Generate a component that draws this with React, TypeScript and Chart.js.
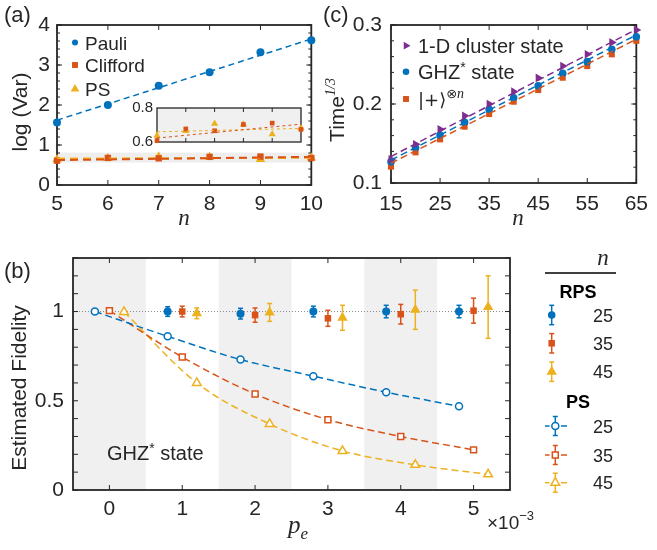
import React, { useEffect, useRef } from 'react';
import { Chart, registerables } from 'chart.js';
Chart.register(...registerables);

const BLUE = '#0072BD';
const ORANGE = '#D95319';
const YELLOW = '#EDB120';
const PURPLE = '#7E2F8E';
const AX = '#262626';
const SANS = '"Liberation Sans", Arial, Helvetica, sans-serif';
const SERIF = '"Liberation Serif", "DejaVu Serif", "Times New Roman", serif';
const SYM = '"DejaVu Sans", "Liberation Sans", sans-serif';

// ---------- panel (a) ----------
const nA = [5, 6, 7, 8, 9, 10];
const pauliVar = [1.56, 2.0, 2.48, 2.82, 3.32, 3.62];
const cliffordVar = [0.608, 0.677, 0.666, 0.703, 0.711, 0.674];
const psVar = [0.638, 0.666, 0.708, 0.703, 0.646, 0.681];
const fitNA = [5, 10];
const pauliFit = [1.62, 3.65];
const cliffordFit = [0.623, 0.705];
const psFit = [0.66, 0.68];
const zoomBandA = [0.56, 0.81];
const xTicksA = [5, 6, 7, 8, 9, 10];
const yTicksA = [0, 1, 2, 3, 4];
const insetXTicks = [6, 7, 8, 9];
const insetYTicks = [0.6, 0.8];
const legendA = ['Pauli', 'Clifford', 'PS'];

// ---------- panel (c) ----------
const nC = [15, 20, 25, 30, 35, 40, 45, 50, 55, 60, 65];
const clusterT = [0.13, 0.149, 0.168, 0.185, 0.2, 0.2156, 0.233, 0.248, 0.263, 0.278, 0.2937];
const ghzT = [0.127, 0.1447, 0.1608, 0.1768, 0.1933, 0.208, 0.223, 0.2388, 0.2536, 0.2692, 0.2852];
const plusT = [0.1207, 0.1388, 0.1553, 0.1713, 0.1873, 0.2029, 0.2177, 0.2333, 0.248, 0.2629, 0.28];
const fitNC = [15, 65];
const clusterFit = [0.1335, 0.2945];
const ghzFit = [0.129, 0.2873];
const plusFit = [0.125, 0.2819];
const xTicksC = [15, 25, 35, 45, 55, 65];
const yTicksC = [0.1, 0.2, 0.3];

// ---------- panel (b) ----------
const xTicksB = [0, 1, 2, 3, 4, 5];
const yTicksB = [0, 0.5, 1];
const shadeB = [[-0.5, 0.5], [1.5, 2.5], [3.5, 4.5]];
const refLineB = 1;
const rps25X = [0.8, 1.8, 2.8, 3.8, 4.8];
const rps25F = [1.0, 0.988, 1.0, 1.0, 1.0];
const rps25E = [0.027, 0.03, 0.03, 0.035, 0.035];
const rps35X = [1, 2, 3, 4, 5];
const rps35F = [1.0, 0.98, 0.962, 0.985, 1.005];
const rps35E = [0.03, 0.04, 0.045, 0.055, 0.07];
const rps45X = [1.2, 2.2, 3.2, 4.2, 5.2];
const rps45F = [0.99, 0.995, 0.965, 1.01, 1.025];
const rps45E = [0.03, 0.05, 0.07, 0.11, 0.175];
const ps25X = [-0.2, 0.8, 1.8, 2.8, 3.8, 4.8];
const ps25F = [1.0, 0.861, 0.731, 0.638, 0.548, 0.469];
const ps35X = [0, 1, 2, 3, 4, 5];
const ps35F = [1.005, 0.745, 0.538, 0.394, 0.3, 0.225];
const ps45X = [0.2, 1.2, 2.2, 3.2, 4.2, 5.2];
const ps45F = [0.998, 0.6, 0.37, 0.219, 0.141, 0.088];
const legendNs = ['25', '35', '45'];

// ---------- helpers ----------
const range = (a: number, b: number, s: number) => {
  const out: number[] = [];
  for (let v = a; v <= b + 1e-9; v += s) out.push(Math.round(v * 1e6) / 1e6);
  return out;
};
const pts = (xs: number[], ys: number[]) => xs.map((x, i) => ({ x, y: ys[i] }));
const lineDs = (xs: number[], ys: number[], color: string, dash: number[], lw: number) => ({
  data: pts(xs, ys), showLine: true, borderColor: color, borderWidth: lw, borderDash: dash,
  pointRadius: 0, fill: false,
});
const markDs = (xs: number[], ys: number[], color: string, style: string, r: number, rot = 0) => ({
  data: pts(xs, ys), showLine: false, pointStyle: style, pointRadius: r, pointRotation: rot,
  pointBackgroundColor: color, pointBorderColor: color, pointBorderWidth: 0, clip: false,
});

type Run = { t: string; font: string; dy?: number };
function drawRuns(ctx: CanvasRenderingContext2D, runs: Run[], x: number, y: number, align: 'left' | 'center') {
  let w = 0;
  runs.forEach(r => { ctx.font = r.font; w += ctx.measureText(r.t).width; });
  let cx = align === 'center' ? x - w / 2 : x;
  ctx.textAlign = 'left';
  ctx.textBaseline = 'alphabetic';
  runs.forEach(r => { ctx.font = r.font; ctx.fillText(r.t, cx, y + (r.dy || 0)); cx += ctx.measureText(r.t).width; });
}
function drawMarker(ctx: CanvasRenderingContext2D, style: string, x: number, y: number, r: number, color: string, filled: boolean) {
  ctx.save();
  ctx.beginPath();
  if (style === 'circle') ctx.arc(x, y, r, 0, Math.PI * 2);
  else if (style === 'rect') { const s = r * Math.SQRT1_2; ctx.rect(x - s, y - s, 2 * s, 2 * s); }
  else if (style === 'triangle') {
    ctx.moveTo(x, y - r); ctx.lineTo(x + r * 0.866, y + r * 0.5); ctx.lineTo(x - r * 0.866, y + r * 0.5); ctx.closePath();
  } else if (style === 'triRight') {
    ctx.moveTo(x + r, y); ctx.lineTo(x - r * 0.5, y + r * 0.866); ctx.lineTo(x - r * 0.5, y - r * 0.866); ctx.closePath();
  }
  if (filled) { ctx.fillStyle = color; ctx.fill(); }
  else { ctx.fillStyle = '#fff'; ctx.fill(); ctx.strokeStyle = color; ctx.lineWidth = 1.5; ctx.stroke(); }
  ctx.restore();
}
function line(ctx: CanvasRenderingContext2D, x1: number, y1: number, x2: number, y2: number) {
  ctx.beginPath(); ctx.moveTo(x1, y1); ctx.lineTo(x2, y2); ctx.stroke();
}
function errBar(ctx: CanvasRenderingContext2D, x: number, y1: number, y2: number, color: string) {
  ctx.save(); ctx.strokeStyle = color; ctx.lineWidth = 1.5;
  line(ctx, x, y1, x, y2); line(ctx, x - 2.5, y1, x + 2.5, y1); line(ctx, x - 2.5, y2, x + 2.5, y2);
  ctx.restore();
}

type Frame = { xMajor: number[]; yMajor: number[]; xMinor?: number[]; yMinor?: number[]; maj: number; min: number; lw: number };
function drawFrame(chart: any, f: Frame) {
  const { ctx, chartArea: ca, scales } = chart;
  const xs = scales.x, ys = scales.y;
  ctx.save();
  ctx.strokeStyle = AX;
  ctx.lineWidth = 1;
  const vt = (vals: number[], len: number) => vals.forEach(v => {
    const p = xs.getPixelForValue(v);
    line(ctx, p, ca.bottom, p, ca.bottom - len); line(ctx, p, ca.top, p, ca.top + len);
  });
  const ht = (vals: number[], len: number) => vals.forEach(v => {
    const p = ys.getPixelForValue(v);
    line(ctx, ca.left, p, ca.left + len, p); line(ctx, ca.right, p, ca.right - len, p);
  });
  vt(f.xMajor, f.maj); ht(f.yMajor, f.maj);
  if (f.xMinor) vt(f.xMinor, f.min);
  if (f.yMinor) ht(f.yMinor, f.min);
  ctx.lineWidth = f.lw;
  ctx.strokeRect(ca.left, ca.top, ca.right - ca.left, ca.bottom - ca.top);
  ctx.restore();
}

function axisScale(min: number, max: number, tickVals: number[], size: number, fontSize: number, pad: number, isX: boolean, show = true) {
  return {
    type: 'linear', min, max,
    grid: { display: false, drawTicks: false },
    border: { display: false },
    ticks: {
      display: show, autoSkip: false, maxRotation: 0, padding: pad, color: AX,
      font: { family: SANS, size: fontSize },
      callback: (v: number) => String(v),
    },
    afterBuildTicks: (s: any) => { s.ticks = tickVals.map(v => ({ value: v })); },
    afterFit: (s: any) => { if (isX) s.height = size; else s.width = size; },
  };
}

const baseOpts = (padding: any) => ({
  responsive: false, animation: false, events: [],
  layout: { padding },
  plugins: { legend: { display: false }, tooltip: { enabled: false } },
});

function vTitle(ctx: CanvasRenderingContext2D, runs: Run[], x: number, y: number) {
  ctx.save(); ctx.translate(x, y); ctx.rotate(-Math.PI / 2);
  ctx.fillStyle = AX;
  drawRuns(ctx, runs, 0, 0, 'center');
  ctx.restore();
}

// ---------- configs ----------
function cfgA(): any {
  return {
    type: 'scatter',
    data: {
      datasets: [
        lineDs(fitNA, pauliFit, BLUE, [6, 4], 1.5),
        lineDs(fitNA, cliffordFit, ORANGE, [8, 5], 2),
        lineDs(fitNA, psFit, YELLOW, [8, 5], 2),
        markDs(nA, pauliVar, BLUE, 'circle', 4),
        markDs(nA, cliffordVar, ORANGE, 'rect', 4.5),
        markDs(nA, psVar, YELLOW, 'triangle', 5.5),
      ],
    },
    options: {
      ...baseOpts({ top: 25, right: 18, left: 0, bottom: 0 }),
      scales: {
        x: axisScale(5, 10, xTicksA, 50, 21, 7, true),
        y: axisScale(0, 4, yTicksA, 57, 21, 7, false),
      },
    },
    plugins: [{
      id: 'underA',
      beforeDatasetsDraw(chart: any) {
        const { ctx, chartArea: ca, scales: { y } } = chart;
        ctx.save(); ctx.fillStyle = '#eeeeee';
        const y1 = y.getPixelForValue(zoomBandA[1]), y0 = y.getPixelForValue(zoomBandA[0]);
        ctx.fillRect(ca.left, y1, ca.right - ca.left, y0 - y1);
        ctx.restore();
        drawFrame(chart, { xMajor: xTicksA, yMajor: yTicksA, yMinor: range(0, 4, 0.2), maj: 5, min: 3, lw: 1.8 });
      },
      afterDraw(chart: any) {
        const { ctx } = chart;
        ctx.save(); ctx.fillStyle = AX;
        drawRuns(ctx, [{ t: '(a)', font: `22px ${SANS}` }], 4, 22, 'left');
        vTitle(ctx, [{ t: 'log (Var)', font: `21px ${SANS}` }], 27, 112);
        drawRuns(ctx, [{ t: 'n', font: `italic 23px ${SERIF}` }], 184, 225, 'center');
        const cols = [BLUE, ORANGE, YELLOW];
        const sty = ['circle', 'rect', 'triangle'];
        const rr = [3, 4.2, 5];
        const ys = [42.5, 65, 89];
        legendA.forEach((t, i) => {
          drawMarker(ctx, sty[i], 75, ys[i], rr[i], cols[i], true);
          ctx.fillStyle = AX;
          drawRuns(ctx, [{ t, font: `19px ${SANS}` }], 85, ys[i] + 7, 'left');
        });
        ctx.restore();
      },
    }],
  };
}

function cfgInset(): any {
  return {
    type: 'scatter',
    data: {
      datasets: [
        lineDs(fitNA, cliffordFit, ORANGE, [3, 3], 1),
        lineDs(fitNA, psFit, YELLOW, [3, 3], 1),
        markDs(nA, cliffordVar, ORANGE, 'rect', 3.3),
        markDs(nA, psVar, YELLOW, 'triangle', 4.2),
      ],
    },
    options: {
      ...baseOpts({ top: 8, right: 9, left: 0, bottom: 0 }),
      scales: {
        x: axisScale(5, 10, insetXTicks, 8, 14, 2, true, false),
        y: axisScale(0.6, 0.8, insetYTicks, 32, 15, 4, false),
      },
    },
    plugins: [{
      id: 'underInset',
      beforeDatasetsDraw(chart: any) {
        const { ctx, chartArea: ca } = chart;
        ctx.save(); ctx.fillStyle = '#f0f0f0';
        ctx.fillRect(ca.left, ca.top, ca.right - ca.left, ca.bottom - ca.top);
        ctx.restore();
        drawFrame(chart, { xMajor: insetXTicks, yMajor: [], maj: 4, min: 2, lw: 1.3 });
      },
    }],
  };
}

function cfgC(): any {
  return {
    type: 'scatter',
    data: {
      datasets: [
        lineDs(fitNC, clusterFit, PURPLE, [7, 4], 1.5),
        lineDs(fitNC, ghzFit, BLUE, [7, 4], 1.5),
        lineDs(fitNC, plusFit, ORANGE, [7, 4], 1.5),
        markDs(nC, clusterT, PURPLE, 'triangle', 5, 90),
        markDs(nC, ghzT, BLUE, 'circle', 3.8),
        markDs(nC, plusT, ORANGE, 'rect', 4.3),
      ],
    },
    options: {
      ...baseOpts({ top: 25, right: 12, left: 0, bottom: 0 }),
      scales: {
        x: axisScale(15, 65, xTicksC, 52, 21, 9, true),
        y: axisScale(0.1, 0.3, yTicksC, 71, 21, 9, false),
      },
    },
    plugins: [{
      id: 'underC',
      beforeDatasetsDraw(chart: any) {
        drawFrame(chart, { xMajor: xTicksC, yMajor: yTicksC, yMinor: range(0.1, 0.3, 0.02), maj: 5, min: 3, lw: 1.8 });
      },
      afterDraw(chart: any) {
        const { ctx } = chart;
        ctx.save(); ctx.fillStyle = AX;
        drawRuns(ctx, [{ t: '(c)', font: `22px ${SANS}` }], 3, 22, 'left');
        vTitle(ctx, [
          { t: 'Time', font: `21px ${SANS}` },
          { t: '1/3', font: `italic 14px ${SERIF}`, dy: -9 },
        ], 24, 110);
        drawRuns(ctx, [{ t: 'n', font: `italic 23px ${SERIF}` }], 198, 225, 'center');
        const f = `20px ${SANS}`;
        drawMarker(ctx, 'triRight', 86, 45.7, 4.5, PURPLE, true);
        drawMarker(ctx, 'circle', 86, 71.7, 3.3, BLUE, true);
        drawMarker(ctx, 'rect', 86, 99, 4.2, ORANGE, true);
        ctx.fillStyle = AX;
        drawRuns(ctx, [{ t: '1-D cluster state', font: f }], 98, 52.8, 'left');
        drawRuns(ctx, [
          { t: 'GHZ', font: f },
          { t: '*', font: `14px ${SANS}`, dy: -7 },
          { t: ' state', font: f },
        ], 98, 78.8, 'left');
        drawRuns(ctx, [
          { t: '|+\u27E9', font: `18px ${SYM}` },
          { t: '\u2297', font: `13px ${SYM}`, dy: -8 },
          { t: 'n', font: `italic 14px ${SERIF}`, dy: -8 },
        ], 98, 105.5, 'left');
        ctx.restore();
      },
    }],
  };
}

function cfgB(): any {
  const ebar = (xs: number[], ys: number[], es: number[], color: string, style: string, r: number) => ({
    ...markDs(xs, ys, color, style, r), errorBars: es,
  });
  const psDs = (xs: number[], ys: number[], color: string, style: string, r: number) => ({
    data: pts(xs, ys), showLine: true, borderColor: color, borderWidth: 1.5, borderDash: [7, 4],
    cubicInterpolationMode: 'monotone', fill: false,
    pointStyle: style, pointRadius: r, pointBackgroundColor: '#fff', pointBorderColor: color, pointBorderWidth: 1.5,
    clip: false,
  });
  return {
    type: 'scatter',
    data: {
      datasets: [
        psDs(ps25X, ps25F, BLUE, 'circle', 3.5),
        psDs(ps35X, ps35F, ORANGE, 'rect', 4.2),
        psDs(ps45X, ps45F, YELLOW, 'triangle', 5),
        ebar(rps25X, rps25F, rps25E, BLUE, 'circle', 4),
        ebar(rps35X, rps35F, rps35E, ORANGE, 'rect', 4.6),
        ebar(rps45X, rps45F, rps45E, YELLOW, 'triangle', 6),
      ],
    },
    options: {
      ...baseOpts({ top: 33, right: 147, left: 0, bottom: 0 }),
      scales: {
        x: axisScale(-0.5, 5.5, xTicksB, 60, 21, 7, true),
        y: axisScale(0, 1.3, yTicksB, 73, 21, 9, false),
      },
    },
    plugins: [{
      id: 'underB',
      beforeDatasetsDraw(chart: any) {
        const { ctx, chartArea: ca, scales: { x, y } } = chart;
        ctx.save();
        ctx.fillStyle = '#f0f0f0';
        shadeB.forEach(([a, b]) => {
          const p0 = x.getPixelForValue(a), p1 = x.getPixelForValue(b);
          ctx.fillRect(p0, ca.top, p1 - p0, ca.bottom - ca.top);
        });
        ctx.strokeStyle = '#8a8a8a'; ctx.lineWidth = 1; ctx.setLineDash([1, 2]);
        const py = y.getPixelForValue(refLineB);
        line(ctx, ca.left, py, ca.right, py);
        ctx.setLineDash([]);
        ctx.restore();
        drawFrame(chart, { xMajor: xTicksB, yMajor: range(0, 1.3, 0.1), maj: 5, min: 3, lw: 1.8 });
        chart.data.datasets.forEach((ds: any, i: number) => {
          if (!ds.errorBars) return;
          const meta = chart.getDatasetMeta(i);
          meta.data.forEach((el: any, j: number) => {
            const v = ds.data[j].y, e = ds.errorBars[j];
            errBar(ctx, el.x, y.getPixelForValue(v + e), y.getPixelForValue(v - e), ds.pointBorderColor);
          });
        });
      },
      afterDraw(chart: any) {
        const { ctx } = chart;
        ctx.save(); ctx.fillStyle = AX;
        drawRuns(ctx, [{ t: '(b)', font: `22px ${SANS}` }], 4, 53, 'left');
        vTitle(ctx, [{ t: 'Estimated Fidelity', font: `21px ${SANS}` }], 26, 163);
        drawRuns(ctx, [
          { t: 'p', font: `italic 25px ${SERIF}` },
          { t: 'e', font: `italic 17px ${SERIF}`, dy: 6 },
        ], 298, 308, 'center');
        drawRuns(ctx, [
          { t: '\u00D710', font: `19px ${SANS}` },
          { t: '\u22123', font: `13px ${SANS}`, dy: -9 },
        ], 487, 304, 'left');
        drawRuns(ctx, [
          { t: 'GHZ', font: `20px ${SANS}` },
          { t: '*', font: `14px ${SANS}`, dy: -7 },
          { t: ' state', font: `20px ${SANS}` },
        ], 107, 234.8, 'left');
        // legend
        drawRuns(ctx, [{ t: 'n', font: `italic 23px ${SERIF}` }], 603, 40, 'center');
        ctx.strokeStyle = '#000'; ctx.lineWidth = 1.6;
        line(ctx, 545, 48, 616, 48);
        ctx.fillStyle = '#000';
        drawRuns(ctx, [{ t: 'RPS', font: `bold 18px ${SANS}` }], 578, 72.5, 'center');
        drawRuns(ctx, [{ t: 'PS', font: `bold 18px ${SANS}` }], 578, 183, 'center');
        const cols = [BLUE, ORANGE, YELLOW];
        const sty = ['circle', 'rect', 'triangle'];
        const rrF = [3.8, 4.6, 6];
        const rrO = [3.5, 4.2, 5];
        const rowsR = [90, 118.3, 146.7];
        const rowsP = [201, 230, 257.7];
        legendNs.forEach((t, i) => {
          errBar(ctx, 551.7, rowsR[i] - 9.7, rowsR[i] + 9.7, cols[i]);
          drawMarker(ctx, sty[i], 551.7, rowsR[i], rrF[i], cols[i], true);
          ctx.fillStyle = AX;
          drawRuns(ctx, [{ t, font: `18px ${SANS}` }], 593, rowsR[i] + 6.5, 'left');
          ctx.save(); ctx.strokeStyle = cols[i]; ctx.lineWidth = 1.5;
          line(ctx, 545, rowsP[i], 549.5, rowsP[i]); line(ctx, 561, rowsP[i], 567, rowsP[i]);
          ctx.restore();
          errBar(ctx, 555.3, rowsP[i] - 9.5, rowsP[i] + 9.5, cols[i]);
          drawMarker(ctx, sty[i], 555.3, rowsP[i], rrO[i], cols[i], false);
          ctx.fillStyle = AX;
          drawRuns(ctx, [{ t, font: `18px ${SANS}` }], 593, rowsP[i] + 6.5, 'left');
        });
        ctx.restore();
      },
    }],
  };
}

export default function App() {
  const aRef = useRef<HTMLCanvasElement>(null);
  const insRef = useRef<HTMLCanvasElement>(null);
  const bRef = useRef<HTMLCanvasElement>(null);
  const cRef = useRef<HTMLCanvasElement>(null);
  useEffect(() => {
    const charts = [
      new Chart(aRef.current!, cfgA()),
      new Chart(cRef.current!, cfgC()),
      new Chart(bRef.current!, cfgB()),
      new Chart(insRef.current!, cfgInset()),
    ];
    return () => charts.forEach(c => c.destroy());
  }, []);
  const abs = (left: number, top: number): React.CSSProperties => ({ position: 'absolute', left, top });
  return (
    <div style={{ position: 'absolute', left: 0, top: 0, width: 657, height: 550, background: '#fff', overflow: 'hidden' }}>
      <canvas ref={aRef} width={330} height={235} style={abs(0, 0)} />
      <canvas ref={cRef} width={337} height={235} style={abs(320, 0)} />
      <canvas ref={bRef} width={657} height={325} style={abs(0, 225)} />
      <canvas ref={insRef} width={185} height={60} style={abs(125, 95)} />
    </div>
  );
}
